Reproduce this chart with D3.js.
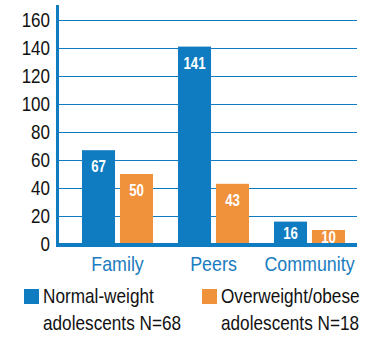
<!DOCTYPE html>
<html lang="en">
<head>
  <meta charset="UTF-8">
  <title>Sources of support</title>
  <style>
    body { margin: 0; background: #fff; }
    svg text { font-family: 'Liberation Sans', Arial, sans-serif; }
  </style>
</head>
<body>
  <div id="chart"></div>

  <script src="https://d3js.org/d3.v7.min.js"></script>

  <script>
    const categories = ["Family", "Peers", "Community"];
    const normalWeight = [67, 141, 16];
    const overweight = [50, 43, 10];
    const yTicks = [0, 20, 40, 60, 80, 100, 120, 140, 160];
    const legendLabels = [
      ["Normal-weight", "adolescents N=68"],
      ["Overweight/obese", "adolescents N=18"]
    ];

    const blue = "#0f7cc2";
    const orange = "#f0913c";
    const colors = [blue, orange];
    const narrow = 0.85; // no condensed font installed, squeeze glyphs instead

    const width = 370, height = 339;
    const x0 = 57.5, x1 = 357;

    const rows = categories.map((c, i) => ({ cat: c, values: [normalWeight[i], overweight[i]] }));

    const svg = d3.select("#chart").append("svg")
      .attr("width", width)
      .attr("height", height);

    const y = d3.scaleLinear().domain([0, 170]).range([244, 6]);

    const x = d3.scaleBand()
      .domain(categories)
      .range([69.5, 357.5])
      .paddingInner(0.26)
      .paddingOuter(0.13);

    const xSub = d3.scaleBand()
      .domain([0, 1])
      .range([0, x.bandwidth()])
      .paddingInner(0.13);

    // gridlines + tick labels
    const yAxis = svg.append("g")
      .attr("transform", `translate(${x0},0)`)
      .call(d3.axisLeft(y).tickValues(yTicks).tickSize(-(x1 - x0)).tickPadding(7));
    yAxis.select(".domain").remove();
    yAxis.selectAll(".tick line").attr("stroke", blue).attr("stroke-width", 1);
    yAxis.selectAll(".tick text")
      .attr("x", -7.5 / narrow)
      .attr("transform", `scale(${narrow},1)`)
      .attr("fill", "#111")
      .style("font-size", "20px");

    // bars
    const groups = svg.selectAll("g.grp")
      .data(rows)
      .join("g")
      .attr("class", "grp")
      .attr("transform", d => `translate(${x(d.cat)},0)`);

    groups.selectAll("rect")
      .data(d => d.values)
      .join("rect")
      .attr("x", (v, i) => xSub(i))
      .attr("y", v => y(v))
      .attr("width", xSub.bandwidth())
      .attr("height", v => y(0) - y(v))
      .attr("fill", (v, i) => colors[i]);

    groups.selectAll("text.val")
      .data(d => d.values)
      .join("text")
      .attr("class", "val")
      .attr("transform", (v, i) =>
        `translate(${xSub(i) + xSub.bandwidth() / 2},${y(v) + Math.min(22, (y(0) - y(v)) / 2 + 6)}) scale(0.78,1)`)
      .attr("text-anchor", "middle")
      .attr("fill", "#fff")
      .style("font-size", "17px")
      .style("font-weight", "bold")
      .text(v => v);

    // axis lines
    svg.append("line")
      .attr("x1", x0).attr("x2", x0)
      .attr("y1", 5).attr("y2", 247)
      .attr("stroke", blue).attr("stroke-width", 3);
    svg.append("line")
      .attr("x1", x0 - 1.5).attr("x2", x1)
      .attr("y1", y(0) + 1).attr("y2", y(0) + 1)
      .attr("stroke", blue).attr("stroke-width", 4);

    // category labels
    svg.selectAll("text.cat")
      .data(categories)
      .join("text")
      .attr("class", "cat")
      .attr("transform", d => `translate(${x(d) + x.bandwidth() / 2},270.5) scale(${narrow},1)`)
      .attr("text-anchor", "middle")
      .attr("fill", "#1a7cc0")
      .style("font-size", "21px")
      .text(d => d);

    // legend
    const legendX = [24, 202];
    const legend = svg.selectAll("g.leg")
      .data(legendLabels)
      .join("g")
      .attr("class", "leg")
      .attr("transform", (d, i) => `translate(${legendX[i]},0)`);

    legend.append("rect")
      .attr("x", 0).attr("y", 289)
      .attr("width", 15).attr("height", 15)
      .attr("fill", (d, i) => colors[i]);

    legend.selectAll("text")
      .data(d => d)
      .join("text")
      .attr("transform", (d, i) => `translate(19,${303 + i * 27}) scale(0.86,1)`)
      .attr("fill", "#111")
      .style("font-size", "20px")
      .text(d => d);
  </script>
</body>
</html>
